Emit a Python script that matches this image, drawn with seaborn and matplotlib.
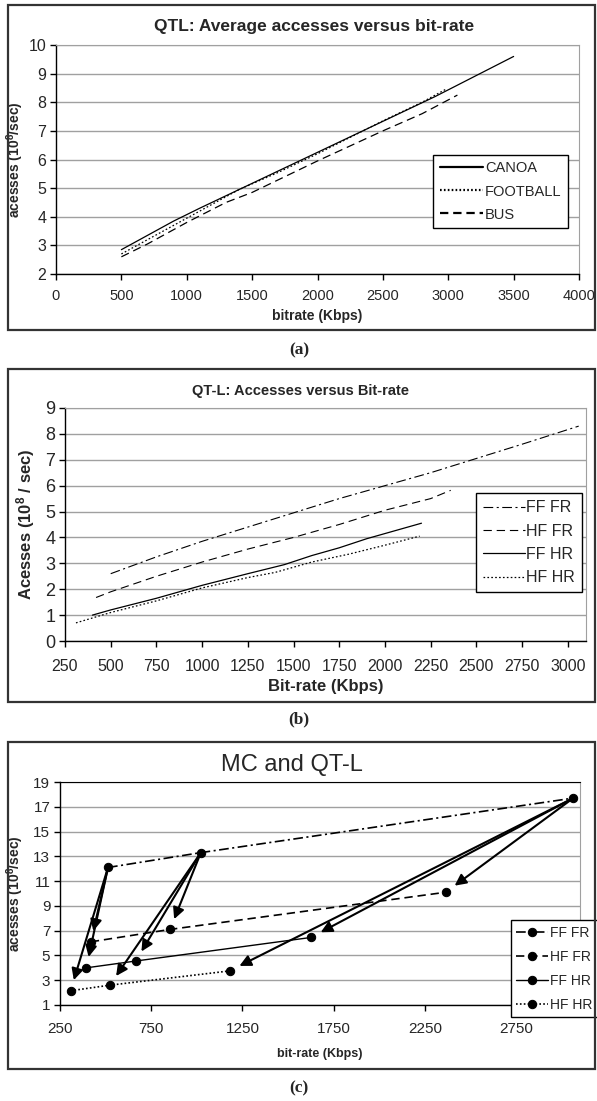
import pandas as pd
import seaborn as sns
import matplotlib.pyplot as plt
from matplotlib.patches import Rectangle

# ------------------------------------------------------------
# Data
# ------------------------------------------------------------
# (a) QTL: average accesses versus bit-rate
canoa_x = [500, 700, 900, 1100, 1400, 1700, 2000, 2300, 2600, 2900, 3200, 3500]
canoa_y = [2.85, 3.35, 3.85, 4.3, 4.95, 5.6, 6.25, 6.9, 7.55, 8.2, 8.9, 9.6]
football_x = [500, 700, 1000, 1400, 1700, 2000, 2500, 2800, 2980]
football_y = [2.7, 3.2, 3.95, 4.95, 5.55, 6.2, 7.35, 8.0, 8.45]
bus_x = [500, 700, 1000, 1300, 1500, 2000, 2500, 2800, 3070]
bus_y = [2.6, 3.05, 3.8, 4.5, 4.85, 5.95, 7.0, 7.6, 8.25]

# (b) QT-L: accesses versus bit-rate
fffr_x = [500, 750, 1000, 1250, 1500, 1750, 2000, 2250, 2500, 2750, 3060]
fffr_y = [2.6, 3.25, 3.85, 4.4, 4.95, 5.5, 6.0, 6.5, 7.05, 7.6, 8.3]
hffr_x = [420, 500, 750, 1000, 1250, 1500, 1600, 1750, 2000, 2250, 2360]
hffr_y = [1.68, 1.9, 2.5, 3.05, 3.55, 4.0, 4.2, 4.5, 5.05, 5.5, 5.82]
ffhr_x = [400, 500, 750, 1000, 1250, 1450, 1600, 1750, 1900, 2000, 2200]
ffhr_y = [1.0, 1.2, 1.65, 2.15, 2.6, 2.95, 3.3, 3.6, 3.95, 4.15, 4.55]
hfhr_x = [310, 500, 750, 1000, 1250, 1400, 1600, 1800, 2000, 2190]
hfhr_y = [0.7, 1.1, 1.55, 2.05, 2.45, 2.65, 3.05, 3.35, 3.7, 4.05]

# (c) MC and QT-L
mc_fffr_x = [513, 1022, 3063]
mc_fffr_y = [12.1, 13.3, 17.7]
mc_hffr_x = [419, 853, 2364]
mc_hffr_y = [6.1, 7.1, 10.1]
mc_ffhr_x = [394, 665, 1625]
mc_ffhr_y = [4.0, 4.55, 6.45]
mc_hfhr_x = [308, 523, 1179]
mc_hfhr_y = [2.15, 2.6, 3.75]

# ------------------------------------------------------------
# Style
# ------------------------------------------------------------
sns.set_style("white")
plt.rcParams["font.family"] = ["Liberation Sans", "DejaVu Sans"]
plt.rcParams["mathtext.fontset"] = "custom"
plt.rcParams["mathtext.bf"] = "Liberation Sans:bold"
plt.rcParams["mathtext.rm"] = "Liberation Sans"
plt.rcParams["mathtext.default"] = "bf"
plt.rcParams["lines.scale_dashes"] = False

W, H = 597, 1101
fig = plt.figure(figsize=(W / 100, H / 100), dpi=100)
fig.patch.set_facecolor("white")

GRID = "#a0a0a0"
DASHDOT = (0, (7, 2.5, 1.5, 2.5))
DASHED = (0, (6, 3.5))
DOTTED = (0, (1.2, 1.6))


def add_ax(l, t, r, b):
    return fig.add_axes([l / W, 1 - b / H, (r - l) / W, (b - t) / H])


def frame(l, t, r, b):
    fig.patches.append(Rectangle((l / W, 1 - b / H), (r - l) / W, (b - t) / H,
                                 transform=fig.transFigure, fill=False,
                                 lw=1.6, ec="#333333", zorder=0))


def ftext(x, y, s, **kw):
    fig.text(x / W, 1 - y / H, s, ha="center", va="center", **kw)


def style_axes(ax, top_color=GRID):
    ax.set_facecolor("white")
    ax.grid(axis="y", color=GRID, lw=1.0)
    ax.grid(axis="x", visible=False)
    ax.set_axisbelow(True)
    for side in ["left", "bottom"]:
        ax.spines[side].set_color("black")
        ax.spines[side].set_linewidth(1.0)
    ax.spines["top"].set_color(top_color)
    ax.spines["right"].set_color(GRID)
    ax.tick_params(direction="out", length=4, width=1, color="black",
                   bottom=True, left=True, pad=3)
    ax.tick_params(axis="x", pad=7)


def legend_box(ax, anchor, fs, hl, spacing):
    leg = ax.legend(loc="upper left", bbox_to_anchor=anchor, fontsize=fs,
                    frameon=True, fancybox=False, edgecolor="black",
                    framealpha=1, handlelength=hl, handletextpad=0.1,
                    labelspacing=spacing, borderpad=0.45, borderaxespad=0)
    leg.get_frame().set_linewidth(1.0)
    return leg


# ------------------------------------------------------------
# (a)
# ------------------------------------------------------------
frame(8, 5, 595, 330)
ax = add_ax(56, 45, 579, 274)
sns.lineplot(x=canoa_x, y=canoa_y, ax=ax, color="black", lw=0.9, label="CANOA")
sns.lineplot(x=football_x, y=football_y, ax=ax, color="black", lw=0.9,
             linestyle=DOTTED, label="FOOTBALL")
sns.lineplot(x=bus_x, y=bus_y, ax=ax, color="black", lw=0.9,
             linestyle=DASHED, label="BUS")
ax.set_xlim(0, 4000)
ax.set_ylim(2, 10)
ax.set_xticks(range(0, 4001, 500))
ax.set_yticks(range(2, 11))
style_axes(ax)
ax.tick_params(labelsize=10.5)
ax.tick_params(axis="y", labelsize=11.5)
leg = legend_box(ax, (0.721, 0.52), 10.5, 3.0, 0.62)
for line in leg.get_lines():
    line.set_linewidth(1.6)
ax.set_xlabel("bitrate (Kbps)", fontsize=10, fontweight="bold")
ax.set_ylabel(r"acesses (10$^{8}$/sec)", fontsize=10, fontweight="bold")
ax.xaxis.set_label_coords(0.5, -0.155)
ax.yaxis.set_label_coords(-0.058, 0.5)
ftext(314, 26, "QTL: Average accesses versus bit-rate", fontsize=12.5,
      fontweight="bold")
ftext(299, 350, "(a)", fontsize=12.5, fontweight="bold", family="Liberation Serif")

# ------------------------------------------------------------
# (b)
# ------------------------------------------------------------
frame(8, 369, 595, 702)
ax = add_ax(65, 408, 586, 641)
sns.lineplot(x=fffr_x, y=fffr_y, ax=ax, color="black", lw=0.8,
             linestyle=DASHDOT, label="FF FR")
sns.lineplot(x=hffr_x, y=hffr_y, ax=ax, color="black", lw=0.8,
             linestyle=DASHED, label="HF FR")
sns.lineplot(x=ffhr_x, y=ffhr_y, ax=ax, color="black", lw=0.9, label="FF HR")
sns.lineplot(x=hfhr_x, y=hfhr_y, ax=ax, color="black", lw=0.9,
             linestyle=DOTTED, label="HF HR")
ax.set_xlim(250, 3100)
ax.set_ylim(0, 9)
ax.set_xticks(range(250, 3001, 250))
ax.set_yticks(range(0, 10))
style_axes(ax)
ax.tick_params(axis="x", labelsize=11.5, pad=9)
ax.tick_params(axis="y", labelsize=13)
legend_box(ax, (0.789, 0.635), 11.5, 2.6, 0.52)
ax.set_xlabel("Bit-rate (Kbps)", fontsize=12, fontweight="bold")
ax.set_ylabel(r"Acesses (10$^{8}$ / sec)", fontsize=12, fontweight="bold")
ax.xaxis.set_label_coords(0.5, -0.163)
ax.yaxis.set_label_coords(-0.053, 0.5)
ftext(301, 391, "QT-L: Accesses versus Bit-rate", fontsize=10.5, fontweight="bold")
ftext(299, 719, "(b)", fontsize=12.5, fontweight="bold", family="Liberation Serif")

# ------------------------------------------------------------
# (c)
# ------------------------------------------------------------
frame(8, 742, 595, 1069)
ax = add_ax(60, 782, 580, 1005)
mk = dict(marker="o", markersize=6, markerfacecolor="black",
          markeredgecolor="black", color="black")
sns.lineplot(x=mc_fffr_x, y=mc_fffr_y, ax=ax, lw=1.2, linestyle=DASHDOT,
             label="FF FR", **mk)
sns.lineplot(x=mc_hffr_x, y=mc_hffr_y, ax=ax, lw=1.2, linestyle=DASHED,
             label="HF FR", **mk)
sns.lineplot(x=mc_ffhr_x, y=mc_ffhr_y, ax=ax, lw=1.0, label="FF HR", **mk)
sns.lineplot(x=mc_hfhr_x, y=mc_hfhr_y, ax=ax, lw=1.2, linestyle=DOTTED,
             label="HF HR", **mk)

# arrows from each MC (FF FR) point to the matching QT-L points
for i in range(len(mc_fffr_x)):
    for tx, ty in [(mc_hfhr_x, mc_hfhr_y), (mc_ffhr_x, mc_ffhr_y),
                   (mc_hffr_x, mc_hffr_y)]:
        ax.annotate("", xy=(tx[i], ty[i]), xytext=(mc_fffr_x[i], mc_fffr_y[i]),
                    arrowprops=dict(arrowstyle="-|>", color="black", lw=1.5,
                                    mutation_scale=17, shrinkA=3, shrinkB=8))

ax.set_xlim(250, 3100)
ax.set_ylim(1, 19)
ax.set_xticks(range(250, 3000, 500))
ax.set_yticks(range(1, 20, 2))
style_axes(ax, top_color="black")
ax.tick_params(labelsize=11)
ax.tick_params(axis="x", pad=8)
leg = ax.legend(loc="upper left", bbox_to_anchor=(0.867, 0.381), fontsize=10,
                frameon=True, fancybox=False, edgecolor="black", framealpha=1,
                handlelength=2.3, handletextpad=0.1, labelspacing=0.72,
                borderpad=0.4, borderaxespad=0)
leg.get_frame().set_linewidth(1.0)
ax.set_xlabel("bit-rate (Kbps)", fontsize=9, fontweight="bold")
ax.set_ylabel(r"acesses (10$^{8}$/sec)", fontsize=10, fontweight="bold")
ax.xaxis.set_label_coords(0.5, -0.195)
ax.yaxis.set_label_coords(-0.065, 0.5)
ftext(292, 765, "MC and QT-L", fontsize=17)
ftext(299, 1088, "(c)", fontsize=12.5, fontweight="bold", family="Liberation Serif")

fig.savefig("out.png", dpi=100)
